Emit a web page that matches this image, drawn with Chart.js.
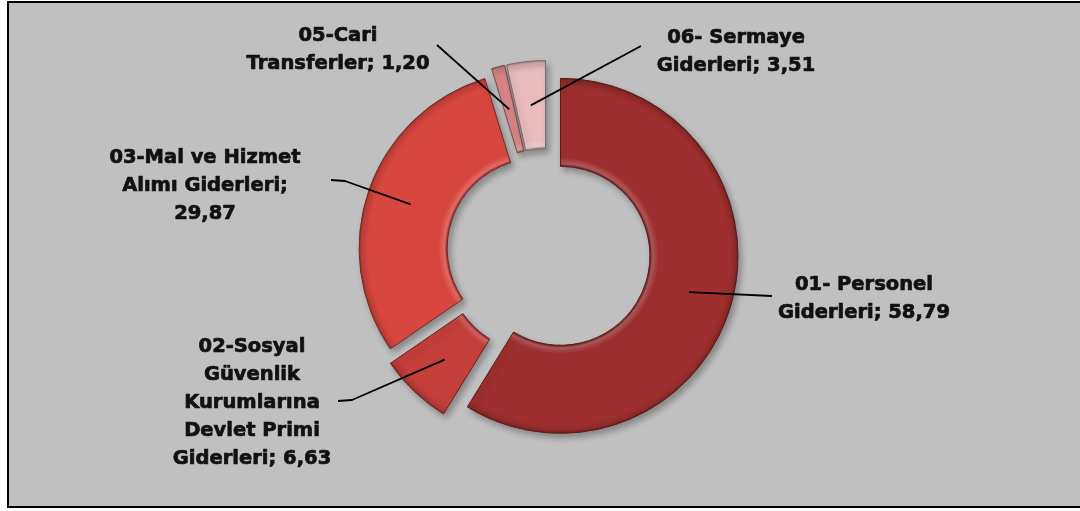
<!DOCTYPE html>
<html>
<head>
<meta charset="utf-8">
<script src="https://cdn.jsdelivr.net/npm/chart.js@4"></script>
<style>
html, body { margin: 0; padding: 0; background: #fff; }
#wrap { position: absolute; left: 0; top: 0; width: 1080px; height: 511px; overflow: hidden; }
#frame { position: absolute; left: 7px; top: 1px; width: 1100px; height: 503px; border: 2px solid #000; background: #c0c0c0; }
canvas { position: absolute; left: 0; top: 0; }
</style>
</head>
<body>
<div id="wrap">
  <div id="frame"></div>
  <canvas id="canvas" width="1080" height="511"></canvas>
</div>
<script>
var categories = [
    '01- Personel\nGiderleri',
    '02-Sosyal\nGüvenlik\nKurumlarına\nDevlet Primi\nGiderleri',
    '03-Mal ve Hizmet\nAlımı Giderleri',
    '05-Cari\nTransferler',
    '06- Sermaye\nGiderleri'
];
var values = [58.79, 6.63, 29.87, 1.20, 3.51];
var sliceColors = ['#9e2f2e', '#c43e3a', '#d8473f', '#da8788', '#e9bbbd'];
// how far each slice is pulled out, px
var explode = [14, 15, 11, 14, 14];

var outerR = 177.5;
var holeCut = '50.4%';

// where each text block sits and how its leader line bends
var labelLayout = [
    { x: 864, y: 285, sep: '; ', leader: [[772, 296]] },
    { x: 252, y: 347, sep: '; ', leader: [[352, 400], [338, 401]] },
    { x: 205, y: 158, sep: ';\n', leader: [[345, 181], [331, 180]] },
    { x: 338, y: 36, sep: '; ', leader: [[437, 45]] },
    { x: 736, y: 38, sep: '; ', leader: [[641, 46]] }
];

function shade(hex, amt) {
    var n = parseInt(hex.slice(1), 16);
    var r = n >> 16, g = (n >> 8) & 255, b = n & 255;
    function f(c) {
        c = amt < 0 ? c * (1 + amt) : c + (255 - c) * amt;
        return Math.round(Math.max(0, Math.min(255, c)));
    }
    return 'rgb(' + f(r) + ',' + f(g) + ',' + f(b) + ')';
}

function sliceFill(ctx) {
    var base = sliceColors[ctx.dataIndex];
    var area = ctx.chart.chartArea;
    if (ctx.dataIndex === undefined || !area) return base || sliceColors[0];
    var cx = (area.left + area.right) / 2, cy = (area.top + area.bottom) / 2;
    var inner = outerR * parseFloat(holeCut) / 100;
    var g = ctx.chart.ctx.createRadialGradient(cx, cy, inner, cx, cy, outerR);
    g.addColorStop(0, shade(base, -0.35));
    g.addColorStop(0.03, shade(base, 0.2));
    g.addColorStop(0.1, base);
    g.addColorStop(0.9, base);
    g.addColorStop(0.97, shade(base, -0.1));
    g.addColorStop(1, shade(base, -0.3));
    return g;
}

// draws the library's arc elements pulled out from the centre, with a soft shadow
var explodePlugin = {
    id: 'explode',
    beforeDatasetDraw: function(chart, args) {
        var c = chart.ctx;
        c.save();
        c.shadowColor = 'rgba(0,0,0,0.3)';
        c.shadowBlur = 6;
        c.shadowOffsetX = 3;
        c.shadowOffsetY = 4;
        args.meta.data.forEach(function(arc, i) {
            var mid = (arc.startAngle + arc.endAngle) / 2;
            c.save();
            c.translate(Math.cos(mid) * explode[i], Math.sin(mid) * explode[i]);
            arc.draw(c);
            c.restore();
        });
        c.restore();
        return false;
    }
};

var labelPlugin = {
    id: 'sliceLabels',
    afterDraw: function(chart) {
        var c = chart.ctx;
        var arcs = chart.getDatasetMeta(0).data;
        c.save();
        c.font = 'bold 19.5px "DejaVu Sans"';
        c.textAlign = 'center';
        c.textBaseline = 'middle';
        c.lineJoin = 'round';
        arcs.forEach(function(arc, i) {
            var mid = (arc.startAngle + arc.endAngle) / 2;
            var r = explode[i] + (arc.innerRadius + arc.outerRadius) / 2;
            var ax = arc.x + Math.cos(mid) * r;
            var ay = arc.y + Math.sin(mid) * r;
            var lay = labelLayout[i];

            c.beginPath();
            c.moveTo(ax, ay);
            lay.leader.forEach(function(pt) { c.lineTo(pt[0], pt[1]); });
            c.strokeStyle = '#000';
            c.lineWidth = 1.8;
            c.stroke();

            var txt = categories[i] + lay.sep + values[i].toFixed(2).replace('.', ',');
            c.fillStyle = '#111';
            c.strokeStyle = '#111';
            c.lineWidth = 0.7;
            txt.split('\n').forEach(function(line, k) {
                c.fillText(line, lay.x, lay.y + k * 28);
                c.strokeText(line, lay.x, lay.y + k * 28);
            });
        });
        c.restore();
    }
};

window.onload = function() {
    var ctx = document.getElementById('canvas').getContext('2d');
    new Chart(ctx, {
        type: 'doughnut',
        data: {
            labels: categories.map(function(s) { return s.replace(/\n/g, ' '); }),
            datasets: [{
                data: values,
                backgroundColor: sliceFill,
                borderColor: sliceColors.map(function(c) { return shade(c, -0.45); }),
                borderWidth: 1
            }]
        },
        options: {
            responsive: false,
            animation: false,
            radius: outerR,
            cutout: holeCut,
            layout: { padding: { left: 14, right: 0, top: 0, bottom: 7 } },
            plugins: {
                legend: { display: false },
                tooltip: { enabled: false }
            }
        },
        plugins: [explodePlugin, labelPlugin]
    });
};
</script>
</body>
</html>
